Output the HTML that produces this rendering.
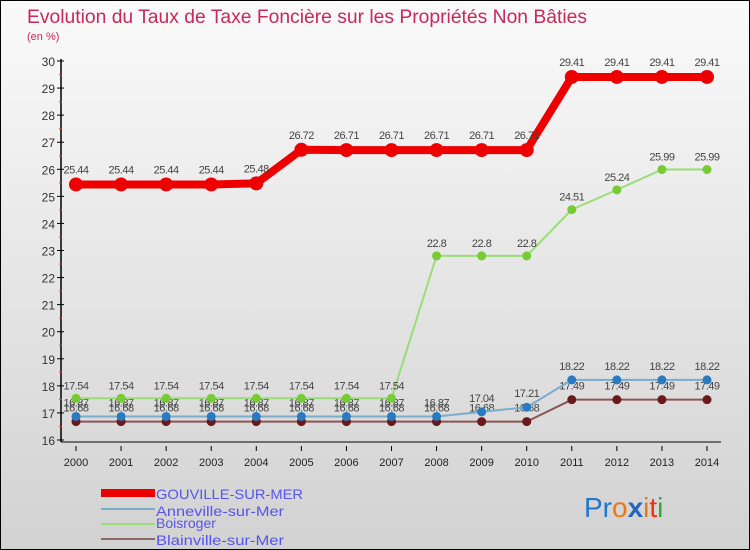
<!DOCTYPE html>
<html><head><meta charset="utf-8"><style>
body{margin:0;padding:0}
#wrap{width:748px;height:548px;border:1px solid #000;background:linear-gradient(#fafafa,#d2d2d2);position:relative;overflow:hidden;font-family:"Liberation Sans",sans-serif}
svg{position:absolute;left:0;top:0}
</style></head><body>
<div id="wrap">
<svg id="chart" width="748" height="548" font-family="Liberation Sans, sans-serif">
<text x="26" y="22" font-size="19" fill="#c8285a" textLength="560" lengthAdjust="spacingAndGlyphs">Evolution du Taux de Taxe Foncière sur les Propriétés Non Bâties</text>
<text x="26" y="39" font-size="11" fill="#c8285a">(en %)</text>
<g id="axes"></g><g id="series"></g>
<g id="legend" font-size="14" fill="#5555ee">
<rect x="100" y="488" width="54" height="8" fill="#e00"/>
<text x="155" y="498" fill="#5555ee" textLength="147" lengthAdjust="spacingAndGlyphs">GOUVILLE-SUR-MER</text>
<rect x="100" y="507" width="54" height="2" fill="#7aaccc"/>
<text x="155" y="515" fill="#5555ee" textLength="128" lengthAdjust="spacingAndGlyphs">Anneville-sur-Mer</text>
<rect x="100" y="522" width="54" height="2" fill="#99dd77"/>
<text x="155" y="527" fill="#5555ee">Boisroger</text>
<rect x="100" y="537" width="54" height="2" fill="#8a6666"/>
<text x="155" y="544" fill="#5555ee" textLength="128" lengthAdjust="spacingAndGlyphs">Blainville-sur-Mer</text>
</g>
<g font-size="28">
<text x="583" y="516"><tspan fill="#2277cc">Pr</tspan><tspan fill="#ee7711">o</tspan><tspan fill="#2266bb" font-weight="bold">x</tspan><tspan fill="#ee7711">i</tspan><tspan fill="#ee3311">t</tspan><tspan fill="#33aa33">i</tspan></text>
</g>
</svg>
</div>
<script>
const years=[2000,2001,2002,2003,2004,2005,2006,2007,2008,2009,2010,2011,2012,2013,2014];
const gouville=[25.44,25.44,25.44,25.44,25.48,26.72,26.71,26.71,26.71,26.71,26.71,29.41,29.41,29.41,29.41];
const anneville=[16.87,16.87,16.87,16.87,16.87,16.87,16.87,16.87,16.87,17.04,17.21,18.22,18.22,18.22,18.22];
const boisroger=[17.54,17.54,17.54,17.54,17.54,17.54,17.54,17.54,22.8,22.8,22.8,24.51,25.24,25.99,25.99];
const blainville=[16.68,16.68,16.68,16.68,16.68,16.68,16.68,16.68,16.68,16.68,16.68,17.49,17.49,17.49,17.49];
const yTicks=[16,17,18,19,20,21,22,23,24,25,26,27,28,29,30];
const NS="http://www.w3.org/2000/svg";
const xS=i=>75+i*(706-75)/(years.length-1);
const yS=v=>439-(v-16)*(439-60)/14;
function mk(tag,attrs,parent){const e=document.createElementNS(NS,tag);for(const k in attrs)e.setAttribute(k,attrs[k]);parent.appendChild(e);return e;}
const ax=document.getElementById('axes');
let yl=mk('line',{x1:60,y1:58,x2:60,y2:441,stroke:'#000','stroke-width':1.5},ax);


let xl=mk('line',{x1:60,y1:441,x2:720,y2:441,stroke:'#000','stroke-width':1},ax);


yTicks.forEach(v=>{
 const y=yS(v);
 mk('line',{x1:56,y1:y,x2:63,y2:y,stroke:'#000'},ax);
 if(v<30) mk('line',{x1:58,y1:y-13.5,x2:61,y2:y-13.5,stroke:'#e33'},ax);
 const t=mk('text',{x:54,y:y+5,'font-size':12,fill:'#333','text-anchor':'end'},ax);
 t.textContent=v;
 
 
});
years.forEach((yr,i)=>{
 const x=xS(i);
 mk('line',{x1:x,y1:445,x2:x,y2:450,stroke:'#000'},ax);
 const t=mk('text',{x:x,y:465,'font-size':11,fill:'#222','text-anchor':'middle'},ax);
 t.textContent=yr;
 
 
});
const sg=document.getElementById('series');
function draw(vals,name,col,dot,w,r,lblOff){
 const g=mk('g',{},sg);
 
 
 const pts=vals.map((v,i)=>xS(i)+','+yS(v)).join(' ');
 const pl=mk('polyline',{points:pts,fill:'none',stroke:col,'stroke-width':w,'stroke-linejoin':'round'},g);
 
 
 vals.forEach((v,i)=>{
  const c=mk('circle',{cx:xS(i),cy:yS(v),r:r,fill:dot},g);
  
  
  const t=mk('text',{x:xS(i),y:yS(v)+lblOff,'font-size':11,fill:'#444','text-anchor':'middle','letter-spacing':'-0.5'},g);
  t.textContent=v.toString();
  
  
 });
}
draw(blainville,'blainville','#8a5555','#6a1a1a',2,4.5,-10);
draw(anneville,'anneville','#7aaccc','#2a7ac0',2,4.5,-10);
draw(boisroger,'boisroger','#99dd77','#77cc33',2,4.5,-9);
draw(gouville,'gouville','#e00','#e00',8,7,-11);
</script>
</body></html>
